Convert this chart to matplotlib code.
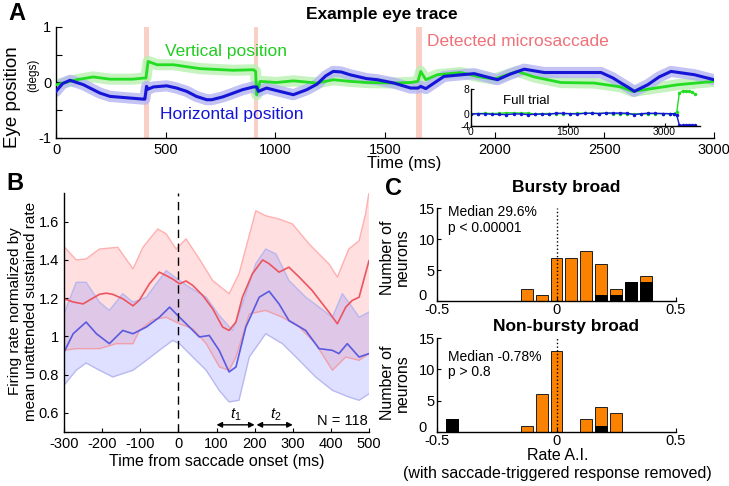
import numpy as np
import matplotlib.pyplot as plt
from matplotlib.transforms import ScaledTranslation

# ---- panel A: example eye trace ----
vert_t = [0, 64, 94, 170, 246, 350, 400, 410, 420, 460, 535, 656, 808, 900, 910, 915, 930, 1006, 1082, 1190,
          1265, 1340, 1416, 1541, 1617, 1650, 1663, 1686, 1739, 1845, 1921, 1998, 2050, 2104, 2180, 2302, 2454,
          2576, 2629, 2683, 2835, 3000]
vert = [-0.04, 0.02, 0.05, 0.1, 0.06, 0.06, 0.08, 0.08, 0.38, 0.32, 0.32, 0.25, 0.22, 0.23, 0.2, -0.22, 0.02, 0.0,
        0.03, -0.01, 0.05, 0.02, 0.0, -0.01, 0.0, 0.02, 0.2, 0.05, 0.14, 0.18, 0.11, 0.06, 0.13, 0.2, 0.1, 0.0,
        -0.01, -0.08, -0.16, -0.13, -0.04, 0.02]
hor_t = [0, 30, 64, 125, 200, 246, 398, 405, 413, 420, 444, 505, 550, 596, 640, 687, 710, 760, 809, 850, 900,
         915, 923, 960, 1020, 1082, 1143, 1190, 1230, 1264, 1300, 1340, 1416, 1465, 1541, 1617, 1650, 1663, 1686,
         1769, 1906, 2013, 2070, 2135, 2226, 2378, 2485, 2540, 2580, 2606, 2637, 2698, 2750, 2804, 2911, 3000]
hor = [-0.16, -0.02, 0.04, -0.04, -0.19, -0.25, -0.3, -0.3, -0.07, -0.12, -0.08, -0.06, -0.1, -0.16, -0.25,
       -0.31, -0.31, -0.26, -0.19, -0.13, -0.08, -0.08, -0.16, -0.1, -0.16, -0.22, -0.13, -0.03, 0.12, 0.2, 0.19,
       0.14, 0.07, 0.05, -0.01, -0.1, -0.1, -0.07, -0.11, 0.11, 0.16, 0.05, 0.15, 0.24, 0.18, 0.18, 0.18, 0.08,
       -0.02, -0.08, -0.16, -0.04, 0.1, 0.2, 0.14, 0.05]
saccades = [(400, 423), (905, 923), (1641, 1668)]

inset_t = [0, 110, 220, 330, 440, 550, 660, 770, 880, 990, 1100, 1210, 1320, 1430, 1540, 1650, 1760, 1870,
           1980, 2090, 2200, 2310, 2420, 2530, 2640, 2750, 2860, 2970, 3080, 3150, 3190, 3230, 3280, 3330,
           3380, 3430, 3470]
inset_vert = [0.0, 0.05, 0.1, 0.05, 0.1, 0.3, 0.25, 0.2, 0.2, -0.1, 0.0, 0.05, 0.0, 0.0, 0.0, 0.1, 0.15, 0.1,
              0.05, 0.15, 0.0, 0.0, -0.05, -0.1, -0.1, -0.05, 0.0, 0.0, 0.0, 0.0, 0.5, 6.8, 7.3, 7.2, 7.3,
              7.0, 6.4]
inset_hor = [-0.15, 0.0, -0.05, -0.2, -0.25, -0.3, -0.1, -0.1, -0.3, -0.2, -0.1, -0.2, 0.15, 0.1, 0.0, -0.1,
             0.1, 0.15, 0.05, 0.2, 0.2, 0.2, 0.15, -0.3, 0.0, 0.15, 0.1, 0.05, 0.0, 0.0, -0.5, -3.7, -3.8,
             -3.8, -3.7, -3.8, -3.8]

# ---- panel B: saccade-triggered rate ----
red_t = [-300, -276, -250, -233, -207, -189, -172, -146, -119, -102, -76, -50, -32, -15, 3, 20, 38, 64, 90, 116,
         133, 151, 168, 194, 221, 238, 264, 290, 317, 351, 378, 395, 417, 439, 456, 474, 500]
red_mean = [1.197, 1.18, 1.17, 1.19, 1.22, 1.226, 1.22, 1.197, 1.16, 1.19, 1.275, 1.336, 1.318, 1.30, 1.275,
            1.29, 1.266, 1.214, 1.144, 1.049, 1.031, 1.075, 1.205, 1.327, 1.40, 1.38, 1.336, 1.362, 1.31, 1.24,
            1.17, 1.127, 1.066, 1.153, 1.188, 1.205, 1.396]
red_up_t = [-300, -268, -242, -207, -159, -119, -93, -54, -32, -6, 20, 55, 90, 133, 159, 203, 229, 264, 299,
            343, 395, 417, 447, 474, 491, 500]
red_up = [1.47, 1.40, 1.405, 1.457, 1.466, 1.353, 1.466, 1.562, 1.536, 1.457, 1.51, 1.405, 1.292, 1.223, 1.327,
          1.657, 1.631, 1.614, 1.588, 1.483, 1.379, 1.31, 1.457, 1.50, 1.64, 1.753]
red_lo_t = [-300, -268, -207, -163, -119, -102, -67, -32, 3, 38, 73, 108, 133, 151, 186, 229, 273, 317, 360,
            404, 439, 474, 500]
red_lo = [0.927, 0.936, 0.936, 0.962, 0.962, 1.031, 1.087, 1.10, 1.066, 1.04, 0.962, 0.84, 0.823, 0.892, 1.118,
          1.136, 1.10, 1.049, 0.962, 0.823, 0.892, 0.875, 0.91]
blue_t = [-300, -276, -242, -215, -181, -146, -119, -84, -50, -23, 3, 29, 55, 81, 107, 133, 151, 177, 212, 238,
          264, 290, 334, 369, 404, 421, 443, 474, 500]
blue_mean = [0.918, 1.014, 1.075, 1.014, 0.962, 1.031, 1.014, 1.049, 1.10, 1.153, 1.10, 1.049, 0.997, 1.005,
             0.927, 0.814, 0.84, 1.049, 1.205, 1.236, 1.17, 1.083, 1.031, 0.936, 0.927, 0.91, 0.962, 0.892, 0.91]
blue_up_t = [-300, -268, -242, -207, -181, -146, -119, -84, -32, 3, 29, 73, 107, 142, 168, 203, 229, 256, 290,
             334, 369, 404, 430, 456, 474, 500]
blue_up = [1.118, 1.283, 1.283, 1.179, 1.136, 1.223, 1.179, 1.205, 1.344, 1.292, 1.257, 1.205, 1.11, 1.031,
           1.17, 1.38, 1.457, 1.431, 1.292, 1.205, 1.153, 1.10, 1.223, 1.153, 1.10, 1.127]
blue_lo_t = [-300, -268, -242, -207, -172, -119, -84, -50, -15, 3, 38, 73, 107, 133, 159, 186, 229, 273, 317,
             360, 404, 447, 474, 500]
blue_lo = [0.744, 0.823, 0.861, 0.823, 0.788, 0.823, 0.875, 0.927, 0.979, 0.962, 0.892, 0.823, 0.718, 0.657,
           0.666, 0.892, 1.014, 0.962, 0.875, 0.788, 0.718, 0.683, 0.666, 0.70]

# ---- panel C: histograms ----
bin_centers = [-0.4375, -0.125, -0.0625, 0, 0.0625, 0.125, 0.1875, 0.25, 0.3125, 0.375]
bursty_total = [0, 2, 1, 7, 7, 8, 6, 2, 3, 4]
bursty_black = [0, 0, 0, 0, 0, 0, 1, 1, 3, 3]
nonbursty_total = [2, 1, 6, 13, 0, 2, 4, 3, 0, 0]
nonbursty_black = [2, 0, 0, 0, 0, 0, 1, 0, 0, 0]

plt.rcParams['font.family'] = ['Liberation Sans', 'DejaVu Sans']
plt.rcParams['mathtext.fontset'] = 'custom'
plt.rcParams['mathtext.it'] = 'Liberation Sans:italic'
plt.rcParams['mathtext.rm'] = 'Liberation Sans'
plt.rcParams['xtick.direction'] = 'in'
plt.rcParams['ytick.direction'] = 'in'
plt.rcParams['axes.linewidth'] = 1.0
plt.rcParams['axes.unicode_minus'] = False

W, H = 729.0, 486.0


def box(l, t, r, b):
    return [l / W, 1 - b / H, (r - l) / W, (b - t) / H]


def clean(ax):
    ax.spines['top'].set_visible(False)
    ax.spines['right'].set_visible(False)
    ax.set_facecolor('none')


fig = plt.figure(figsize=(7.29, 4.86), dpi=100)

# === A ===
axA = fig.add_axes(box(56, 27, 714, 138))
clean(axA)
for s0, s1 in saccades:
    axA.axvspan(s0, s1, color='#f9cfc6', lw=0, zorder=0)
axA.plot(vert_t, vert, color='#b8f0b0', lw=8, alpha=0.8, solid_capstyle='round', zorder=1)
axA.plot(hor_t, hor, color='#b4b4f2', lw=8, alpha=0.8, solid_capstyle='round', zorder=1)
axA.plot(vert_t, vert, color='#22dd22', lw=2, zorder=3)
axA.plot(hor_t, hor, color='#1515d8', lw=2.2, zorder=3)
axA.set_xlim(0, 3000)
axA.set_ylim(-1, 1)
axA.set_xticks(np.arange(0, 3001, 500))
axA.set_yticks([-1, -0.5, 0, 0.5, 1])
axA.set_yticklabels(['-1', '', '0', '', '1'])
axA.tick_params(labelsize=10.5, length=4)
axA.text(775, 0.55, 'Vertical position', color='#22cc22', fontsize=12.5, ha='center', va='center')
axA.text(803, -0.57, 'Horizontal position', color='#1515d8', fontsize=12.5, ha='center', va='center')
axA.text(1690, 0.73, 'Detected microsaccade', color='#f07078', fontsize=12.5, ha='left', va='center')
fig.text(382 / W, 1 - 14 / H, 'Example eye trace', fontsize=12.5, fontweight='bold', ha='center', va='center')
fig.text(404 / W, 1 - 163 / H, 'Time (ms)', fontsize=12, ha='center', va='center')
fig.text(13 / W, 1 - 97 / H, 'Eye position', fontsize=13.5, rotation=90, ha='center', va='center')
fig.text(33 / W, 1 - 75 / H, '(degs)', fontsize=8.5, rotation=90, ha='center', va='center')
fig.text(17 / W, 1 - 14 / H, 'A', fontsize=17, fontweight='bold', ha='center', va='center')

# inset: full trial
axI = fig.add_axes(box(471, 89, 700, 126))
clean(axI)
axI.plot(inset_t, inset_vert, color='#22dd22', lw=1, marker='.', ms=3)
axI.plot(inset_t, inset_hor, color='#1515d8', lw=1, marker='.', ms=3)
axI.set_xlim(0, 3550)
axI.set_ylim(-4, 8)
axI.set_xticks([0, 1500, 3000])
axI.set_yticks([-4, 0, 8])
axI.tick_params(labelsize=7.5, length=2, pad=1)
axI.text(500, 4.2, 'Full trial', fontsize=9.5, ha='left', va='center')

# === B ===
axB = fig.add_axes(box(64, 193, 369, 432))
clean(axB)
axB.fill(np.concatenate([red_up_t, red_lo_t[::-1]]), np.concatenate([red_up, red_lo[::-1]]),
         color='#ff8080', alpha=0.25, lw=0)
axB.fill(np.concatenate([blue_up_t, blue_lo_t[::-1]]), np.concatenate([blue_up, blue_lo[::-1]]),
         color='#8080ff', alpha=0.25, lw=0)
for tt, yy, c in [(red_up_t, red_up, '#ffb0b0'), (red_lo_t, red_lo, '#f0a0a8'),
                  (blue_up_t, blue_up, '#b8b8f0'), (blue_lo_t, blue_lo, '#b8b8f0')]:
    axB.plot(tt, yy, color=c, lw=1)
axB.plot(red_t, red_mean, color='#ec5560', lw=1.2)
axB.plot(blue_t, blue_mean, color='#5a5ae0', lw=1.2)
axB.axvline(0, color='k', lw=1, ls=(0, (6, 4)))
axB.set_xlim(-300, 500)
axB.set_ylim(0.5, 1.75)
axB.set_xticks(np.arange(-300, 501, 100))
axB.set_yticks([0.6, 0.8, 1.0, 1.2, 1.4, 1.6])
axB.set_yticklabels(['0.6', '0.8', '1', '1.2', '1.4', '1.6'])
axB.tick_params(labelsize=10.5, length=3)
axB.annotate('', xy=(200, 0.5375), xytext=(100, 0.5375),
             arrowprops=dict(arrowstyle='<|-|>', color='k', lw=1, mutation_scale=8, shrinkA=0, shrinkB=0))
axB.annotate('', xy=(300, 0.5375), xytext=(205, 0.5375),
             arrowprops=dict(arrowstyle='<|-|>', color='k', lw=1, mutation_scale=8, shrinkA=0, shrinkB=0))
axB.text(150, 0.59, '$t_1$', fontsize=11, ha='center', va='center')
axB.text(255, 0.59, '$t_2$', fontsize=11, ha='center', va='center')
axB.text(496, 0.555, 'N = 118', fontsize=10.5, ha='right', va='center')
axB.set_xlabel('Time from saccade onset (ms)', fontsize=11.5, labelpad=2)
fig.text(23 / W, 1 - 311 / H, 'Firing rate normalized by\nmean unattended sustained rate', fontsize=11,
         rotation=90, ha='center', va='center', linespacing=1.2)
fig.text(15 / W, 1 - 183 / H, 'B', fontsize=17, fontweight='bold', ha='center', va='center')


# === C ===
def hist_panel(rect, total, black, title, ty, med, pval, med_y, lab_y):
    ax = fig.add_axes(rect)
    clean(ax)
    ax.bar(bin_centers, total, width=0.05, color='#fa8200', edgecolor='#202020', lw=0.7)
    ax.bar(bin_centers, black, width=0.05, color='black', edgecolor='black', lw=0.7)
    ax.plot([0, 0], [0, 15], color='k', lw=1, ls=':')
    ax.set_xlim(-0.5, 0.5)
    ax.set_ylim(0, 15)
    ax.set_xticks([-0.5, 0, 0.5])
    ax.set_xticklabels(['-0.5', '0', '0.5'])
    ax.set_yticks([0, 5, 10, 15])
    ax.tick_params(labelsize=10.5, length=3, pad=1.5)
    # the "0" on the y axis sits up and left of the "-0.5" below it
    zero_lbl = ax.yaxis.get_major_ticks()[0].label1
    zero_lbl.set_transform(zero_lbl.get_transform() + ScaledTranslation(-0.08, 0.06, fig.dpi_scale_trans))
    ax.text(-0.455, med_y, med, fontsize=10, ha='left', va='center')
    ax.text(-0.455, med_y - 2.5, pval, fontsize=10, ha='left', va='center')
    ax.set_ylabel('Number of\nneurons', fontsize=11.5, linespacing=1.0)
    ax.yaxis.set_label_coords(-0.113, lab_y)
    fig.text(566 / W, 1 - ty / H, title, fontsize=12.5, fontweight='bold', ha='center', va='center')
    return ax


hist_panel(box(437, 208, 676, 301), bursty_total, bursty_black, 'Bursty broad', 187,
           'Median 29.6%', 'p < 0.00001', 14.3, 0.47)
hist_panel(box(437, 338, 676, 432), nonbursty_total, nonbursty_black, 'Non-bursty broad', 327,
           'Median -0.78%', 'p > 0.8', 12.0, 0.52)
fig.text(558 / W, 1 - 455 / H, 'Rate A.I.', fontsize=11.5, ha='center', va='center')
fig.text(557 / W, 1 - 473 / H, '(with saccade-triggered response removed)', fontsize=11.5, ha='center', va='center')
fig.text(393 / W, 1 - 188 / H, 'C', fontsize=17, fontweight='bold', ha='center', va='center')

fig.savefig('out.png', dpi=100)
